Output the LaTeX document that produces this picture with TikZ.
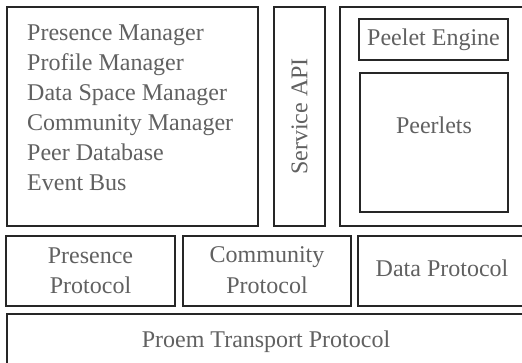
\documentclass[tikz,border=0pt]{standalone}
\usepackage{fontspec}
\setmainfont{Liberation Serif}
\begin{document}
\begin{tikzpicture}[x=1pt,y=-1pt,
  box/.style={draw=black!85, line width=2.4pt, fill=white, inner sep=0pt},
  txt/.style={text=black!62, inner sep=0pt, font=\fontsize{24}{30}\selectfont}]
\useasboundingbox (0,0) rectangle (522,362);
\clip (0,0) rectangle (522,362);
% top row
\node[box, minimum width=251pt, minimum height=219pt] (mgr) at (132.5,116.5) {};
\node[box, minimum width=51pt, minimum height=219pt] (api) at (299.5,116.5) {};
\node[box, minimum width=188pt, minimum height=219pt] (app) at (434,116.5) {};
\node[box, minimum width=149pt, minimum height=41pt] (eng) at (433.5,39.5) {};
\node[box, minimum width=148pt, minimum height=139pt] (peer) at (434,142.5) {};
% middle row
\node[box, minimum width=169pt, minimum height=70pt] (pp) at (90.5,271) {};
\node[box, minimum width=168pt, minimum height=70pt] (cp) at (267,271) {};
\node[box, minimum width=168pt, minimum height=70pt] (dp) at (442,271) {};
% bottom row
\node[box, minimum width=518pt, minimum height=56pt] (tp) at (266,342) {};
% texts
\foreach \t [count=\i] in {Presence Manager, Profile Manager, Data Space Manager, Community Manager, Peer Database, Event Bus}
  \node[txt, anchor=base west] (m\i) at (27,{40.7+30*(\i-1)}) {\t};
\node[txt, rotate=90] (apit) at (api.center) {Service API};
\node[txt] (engt) at (eng.center) {Peelet Engine};
\node[txt] (peert) at (434,125) {Peerlets};
\node[txt, anchor=base] (pp1) at (90.5,263) {Presence};
\node[txt, anchor=base] (pp2) at (90.5,293) {Protocol};
\node[txt, anchor=base] (cp1) at (267,262) {Community};
\node[txt, anchor=base] (cp2) at (267,293) {Protocol};
\node[txt] (dpt) at (442,268) {Data Protocol};
\node[txt] (tpt) at (266,342) {Proem Transport Protocol};
\end{tikzpicture}
\end{document}
